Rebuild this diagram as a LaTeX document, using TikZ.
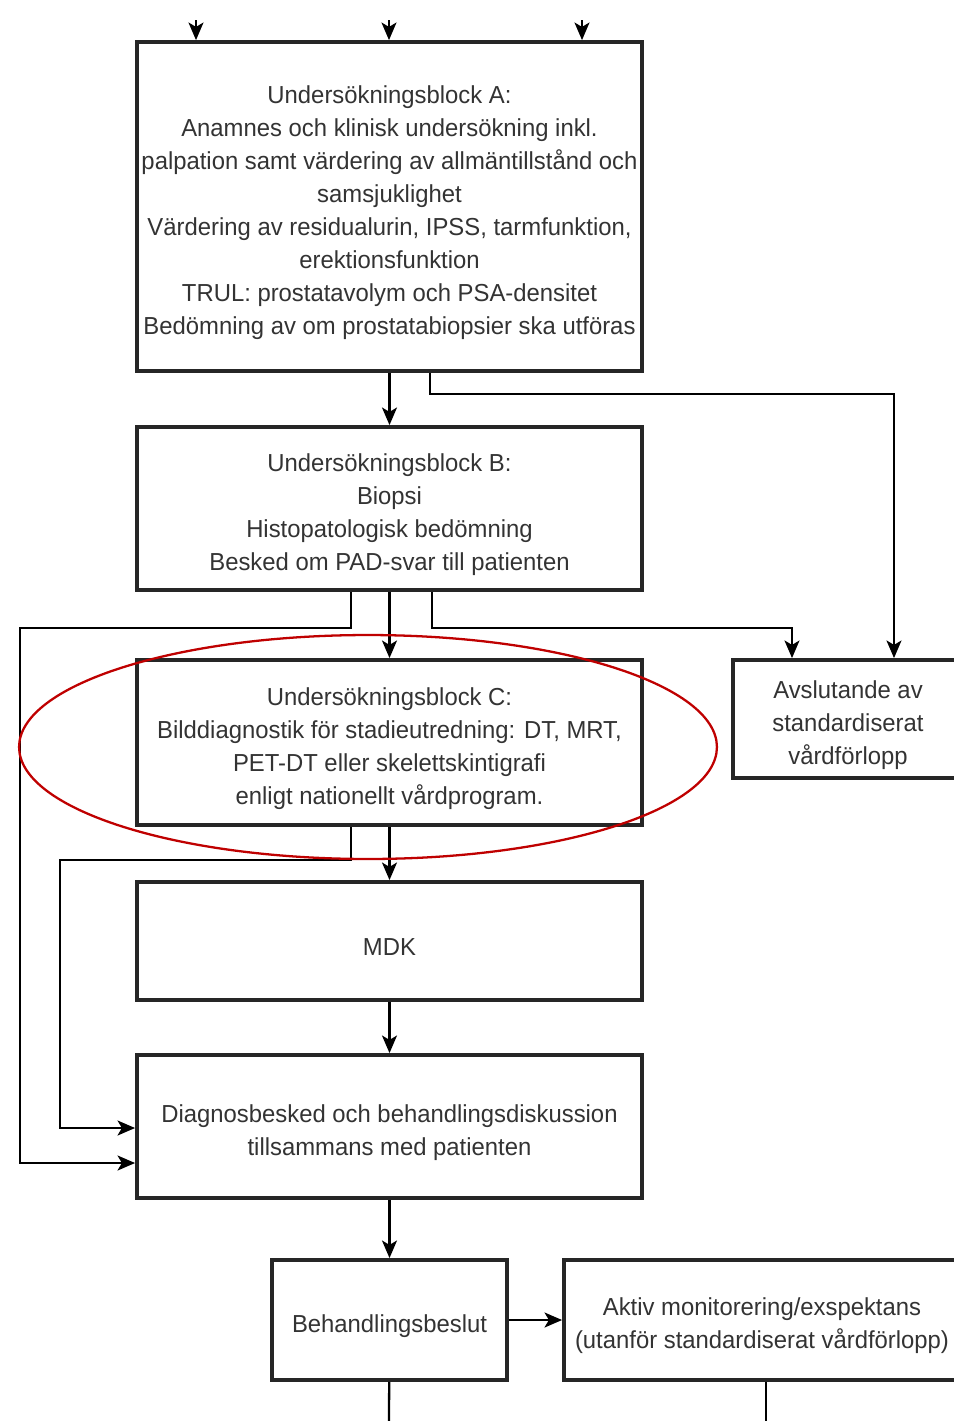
\documentclass[tikz,border=0pt]{standalone}
\usepackage{fontspec}
\setmainfont{Liberation Sans}[FakeStretch=0.97]
\usetikzlibrary{arrows.meta}
\usetikzlibrary{positioning}
\tikzset{block/.style={draw=black!85,line width=2.2pt,rectangle,inner sep=0pt},
         txt/.style={align=center,inner sep=0pt,yshift=-3.4pt,
                     text=black!80,font=\fontsize{14}{18.8}\selectfont},
         conn/.style={line width=1.3pt},
         arr/.style={conn,-{Stealth[length=10pt,width=8.5pt,inset=2.5pt]}},
         mark ring/.style={draw=red!75!black,line width=1.3pt},
         }

\begin{document}
\begin{tikzpicture}[x=0.02cm,y=-0.02cm]
\useasboundingbox (0,0) rectangle (954,1421);
\node[block,minimum width=10.1cm,minimum height=6.58cm,label={[txt]center:{%
     Undersökningsblock A:\\ Anamnes och klinisk undersökning inkl.\\
     palpation samt värdering av allmäntillstånd och\\ samsjuklighet\\
     Värdering av residualurin, IPSS, tarmfunktion,\\ erektionsfunktion\\
     TRUL: prostatavolym och PSA-densitet\\
     Bedömning av om prostatabiopsier ska utföras}}] (A) at (389.5,206.5) {};
\node[block,minimum width=10.1cm,minimum height=3.26cm,label={[txt]center:{%
     Undersökningsblock B:\\ Biopsi\\ Histopatologisk bedömning\\
     Besked om PAD-svar till patienten}}] (B) at (389.5,508.5) {};
\node[block,minimum width=10.1cm,minimum height=3.3cm,label={[txt]center:{%
     Undersökningsblock C:\\ Bilddiagnostik för stadieutredning: DT, MRT,\\
     PET-DT eller skelettskintigrafi\\ enligt nationellt vårdprogram.}}] (C) at (389.5,742.5) {};
\node[block,minimum width=4.6cm,minimum height=2.36cm,label={[txt]center:{%
     Avslutande av\\ standardiserat\\ vårdförlopp}}] (end) at (848,719) {};
\node[block,minimum width=10.1cm,minimum height=2.36cm,
     label={[txt]center:MDK}] (mdk) at (389.5,941) {};
\node[block,minimum width=10.1cm,minimum height=2.86cm,label={[txt]center:{%
     Diagnosbesked och behandlingsdiskussion\\ tillsammans med patienten}}] (diag) at (389.5,1126.5) {};
\node[block,minimum width=4.7cm,minimum height=2.4cm,
     label={[txt]center:Behandlingsbeslut}] (beslut) at (389.5,1320) {};
\node[block,minimum width=7.92cm,minimum height=2.4cm,label={[txt]center:{%
     Aktiv monitorering/exspektans\\ (utanför standardiserat vårdförlopp)}}] (aktiv) at (762,1320) {};
% inflows
\foreach \x [count=\i] in {196,389,582}{
  \coordinate (in\i) at (\x,20);
  \draw[arr] (in\i) -- (in\i |- A.north);
}
\draw[arr] (A) -- (B);
\draw[arr] (A.south -| 430,0) |- (894,394) -- (end.north -| 894,0);
\draw[arr] (B) -- (C);
\draw[arr] (B.south -| 351,0) |- (20,628) |- (diag.west |- 0,1163);
\draw[arr] (B.south -| 432,0) |- (792,628) -- (end.north -| 792,0);
\draw[arr] (C) -- (mdk);
\draw[arr] (C.south -| 351,0) |- (60,860) |- (diag.west |- 0,1128);
\draw[arr] (mdk) -- (diag);
\draw[arr] (diag) -- (beslut);
\draw[arr] (beslut) -- (aktiv);
\coordinate (out1) at (389,1421);
\coordinate (out2) at (766,1421);
\draw[conn] (beslut) -- (out1);
\draw[conn] (aktiv.south -| out2) -- (out2);
% marked block
\draw[mark ring] (368,747) ellipse [x radius=6.98cm,y radius=2.24cm];
\end{tikzpicture}
\end{document}
